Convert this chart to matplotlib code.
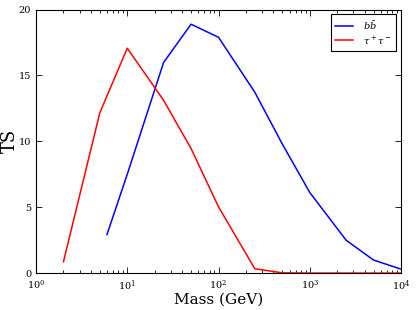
import matplotlib
matplotlib.use("Agg")
import matplotlib.pyplot as plt

mass_bb = [6, 10, 25, 50, 100, 250, 500, 1000, 2500, 5000, 10000]
ts_bb = [2.93, 7.5, 15.98, 18.89, 17.9, 13.73, 9.8, 6.12, 2.5, 0.99, 0.3]
mass_tau = [2, 5, 10, 25, 50, 100, 250, 500, 1000, 2500, 5000, 10000]
ts_tau = [0.86, 12.16, 17.07, 13.12, 9.46, 5.03, 0.33, 0.02, 0.0, 0.0, 0.0, 0.0]

plt.rcParams['font.family'] = 'DejaVu Serif'
plt.rcParams['mathtext.fontset'] = 'dejavuserif'

fig = plt.figure(figsize=(4.16, 3.10), dpi=100)
ax = fig.add_axes([0.0865, 0.119, 0.8775, 0.85])
ax.plot(mass_bb, ts_bb, color='blue', lw=1.1, label=r'$b\bar{b}$')
ax.plot(mass_tau, ts_tau, color='red', lw=1.1, label=r'$\tau^+\tau^-$')
ax.set_xscale('log')
ax.set_xlim(1, 1e4)
ax.set_ylim(0, 20)
ax.set_yticks([0, 5, 10, 15, 20])
ax.tick_params(which='both', direction='in', top=True, right=True, labelsize=7, width=0.6)
ax.tick_params(which='major', length=4)
ax.tick_params(which='minor', length=2)
ax.set_xlabel('Mass (GeV)', fontsize=11, labelpad=0)
ax.set_ylabel('TS', fontsize=13)
ax.yaxis.set_label_coords(-0.047, 0.5)
leg = ax.legend(loc='upper right', fontsize=7, fancybox=False, edgecolor='black',
                framealpha=1, handlelength=1.8, handletextpad=1.1, borderpad=0.45,
                labelspacing=0.3, borderaxespad=0.5)
leg.get_frame().set_linewidth(0.8)
fig.savefig('out.png', dpi=100)
